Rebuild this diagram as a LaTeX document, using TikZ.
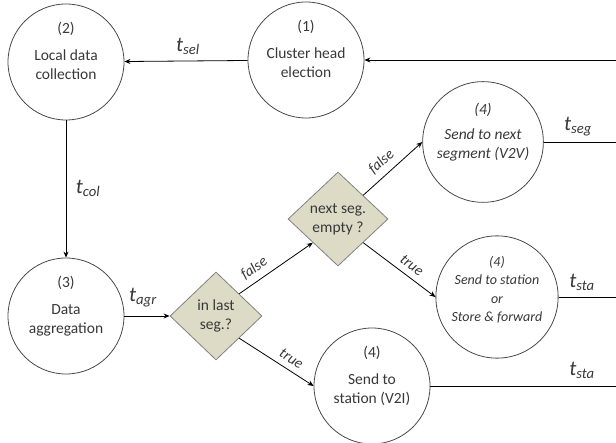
\documentclass[tikz,border=0pt]{standalone}
\usepackage{fontspec}
\setmainfont{Carlito}
\usepackage{xcolor}
\usepackage{tikz}
\usetikzlibrary{shapes, arrows.meta, positioning}
\definecolor{textgray}{RGB}{56, 56, 56}
\definecolor{ringgray}{RGB}{72, 72, 72}
\definecolor{decisionfill}{RGB}{221, 218, 198}
\definecolor{decisionedge}{RGB}{130, 130, 130}

\begin{document}
\begin{tikzpicture}[x=1pt, y=-1pt, >={Stealth[length=6pt,width=5pt]}, line width=0.8pt,
  every node/.style={text=textgray},
  stage/.style={circle, draw=ringgray, minimum size=116pt, inner sep=0pt, align=center, font=\fontsize{15.5}{19}\selectfont},
  stageit/.style={stage, font=\fontsize{15.5}{19}\selectfont\itshape},
  decision/.style={diamond, draw=decisionedge, fill=decisionfill, inner sep=0pt, align=center, font=\fontsize{15.5}{19}\selectfont},
  timing/.style={font=\fontsize{21}{24}\selectfont\itshape},
  branch/.style={font=\fontsize{15}{17}\selectfont\itshape, sloped, above=5pt, inner sep=1pt}]

\useasboundingbox (0,0) rectangle (616,443);

% Stages
\node[stage] at (306,60) (elect) {(1)\\[8pt]Cluster head\\election\\[4pt]\mbox{}};
\node[stage] at (66,62) (collect) {(2)\\[8pt]Local data\\collection\\[4pt]\mbox{}};
\node[stage] at (66,316) (aggr) {(3)\\[8pt]Data\\aggregation\\[4pt]\mbox{}};

% Decisions
\node[decision, minimum width=92pt, minimum height=88pt] at (216,316) (lastseg) {in last\\seg.?};
\node[decision, minimum width=100pt, minimum height=94pt] at (338,219) (nextseg) {next seg.\\empty ?};

% Sending stages
\node[stageit] at (483,142) (v2v) {(4)\\[6pt]Send to next\\segment (V2V)\\[4pt]\mbox{}};
\node[stageit, font=\fontsize{14}{18.5}\selectfont\itshape] at (497,297) (store) {(4)\\Send to station\\or\\Store \& forward\\[-2pt]\mbox{}};
\node[stage] at (372,386) (v2i) {(4)\\[8pt]Send to\\station (V2I)\\[4pt]\mbox{}};

% Free ends at the right border
\coordinate (inR) at (616,60);
\coordinate (v2vR) at (616,142);
\coordinate (storeR) at (616,297);
\coordinate (v2iR) at (616,386);

% Connections
\draw[->] (inR) -- (elect);
\draw[->] (elect) -- (collect);
\draw[->] (collect) -- (aggr);
\draw[->] (aggr) -- (lastseg);
\draw[->] (lastseg.north east) -- node[branch, pos=0.3] {false} (nextseg.south west);
\draw[->] (lastseg.south east) -- node[branch, pos=0.62] {true} (v2i.west);
\draw[->] (nextseg.north east) -- node[branch, pos=0.45] {false} (v2v.west);
\draw[->] (nextseg.south east) -- node[branch, pos=0.58] {true} (store.west);
\draw (v2v) -- (v2vR);
\draw (store) -- (storeR);
\draw (v2i) -- (v2iR);

% Timings
\node[timing] at (188,46) (tsel) {t\textsubscript{sel}};
\node[timing] at (88,188) (tcol) {t\textsubscript{col}};
\node[timing] at (143,298) (tagr) {t\textsubscript{agr}};
\node[timing] at (578,127) (tseg) {t\textsubscript{seg}};
\node[timing] at (582,282) (tsta1) {t\textsubscript{sta}};
\node[timing] at (582,370) (tsta2) {t\textsubscript{sta}};

\end{tikzpicture}
\end{document}
